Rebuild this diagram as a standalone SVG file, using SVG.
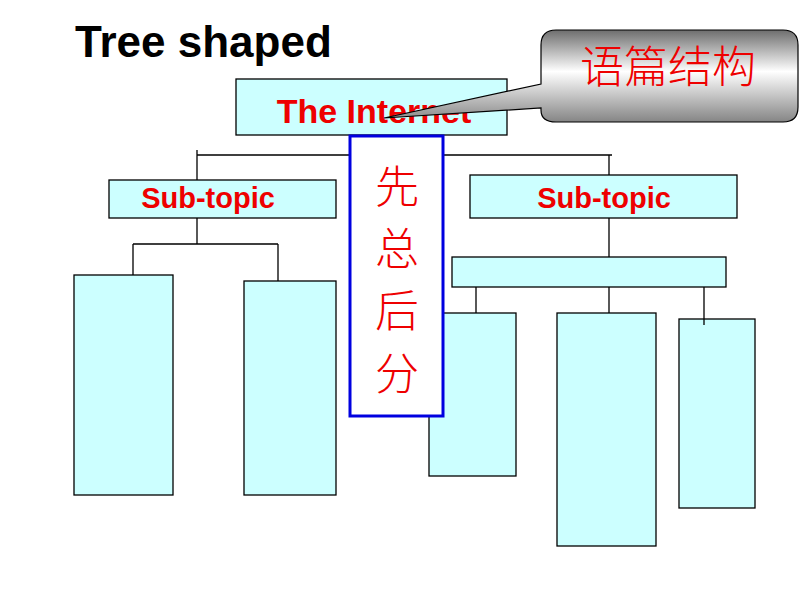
<svg xmlns="http://www.w3.org/2000/svg" width="800" height="600" viewBox="0 0 800 600">
<style>
.box{fill:#CCFFFF;stroke:#000;stroke-width:1.3}
.ln{stroke:#000;stroke-width:1.3;fill:none}
.lbl{font-family:"Liberation Sans",Arial,sans-serif;font-weight:bold;fill:#EE0000;text-anchor:middle}
.cjk{font-family:"Noto Sans CJK SC","Noto Sans CJK JP",sans-serif;fill:#EE0000;text-anchor:middle;font-weight:300}
</style>
<defs>
<linearGradient id="g" x1="0" y1="0" x2="0" y2="1">
<stop offset="0" stop-color="#6e6e6e"/>
<stop offset="0.45" stop-color="#ffffff"/>
<stop offset="1" stop-color="#858585"/>
</linearGradient>
</defs>
<rect width="800" height="600" fill="#fff"/>
<text x="75" y="57" font-family="Liberation Sans,Arial,sans-serif" font-weight="bold" font-size="44" fill="#000">Tree shaped</text>
<g id="root"><rect class="box" x="236" y="79" width="271" height="56"/>
<text class="lbl" x="374" y="123" font-size="34">The Internet</text></g>
<g id="sub1"><rect class="box" x="109" y="180" width="227" height="38"/>
<text class="lbl" x="208" y="208" font-size="29">Sub-topic</text></g>
<g id="sub2"><rect class="box" x="470" y="175" width="267" height="43"/>
<text class="lbl" x="604" y="208" font-size="29">Sub-topic</text></g>
<g id="mid"><rect class="box" x="452" y="257" width="274" height="30"/></g>
<g id="leaf1"><rect class="box" x="74" y="275" width="99" height="220"/></g>
<g id="leaf2"><rect class="box" x="244" y="281" width="92" height="214"/></g>
<g id="leaf3"><rect class="box" x="429" y="313" width="87" height="163"/></g>
<g id="leaf4"><rect class="box" x="557" y="313" width="99" height="233"/></g>
<g id="leaf5"><rect class="box" x="679" y="319" width="76" height="189"/></g>
<g id="connectors">
<path class="ln" d="M197 150V180M197 155H612M609 155V175"/>
<path class="ln" d="M197 218V244M133 244H278M133 244V275M278 244V281"/>
<path class="ln" d="M609 218V257M476 287V313M609 287V313M704 287V325"/>
</g>
<g id="note"><rect x="350" y="136" width="93" height="280" fill="#fff" stroke="#0000E0" stroke-width="3"/>
<text class="cjk" x="397" y="203" font-size="44">先</text>
<text class="cjk" x="397" y="265" font-size="44">总</text>
<text class="cjk" x="397" y="327" font-size="44">后</text>
<text class="cjk" x="397" y="390" font-size="44">分</text></g>
<g id="callout"><path d="M556 30H783Q798 30 798 45V107Q798 122 783 122H556Q541 122 541 110V108L384 118L541 84V45Q541 30 556 30Z" fill="url(#g)" stroke="#000" stroke-width="1.2"/>
<text class="cjk" x="668" y="83" font-size="44">语篇结构</text></g>
</svg>
